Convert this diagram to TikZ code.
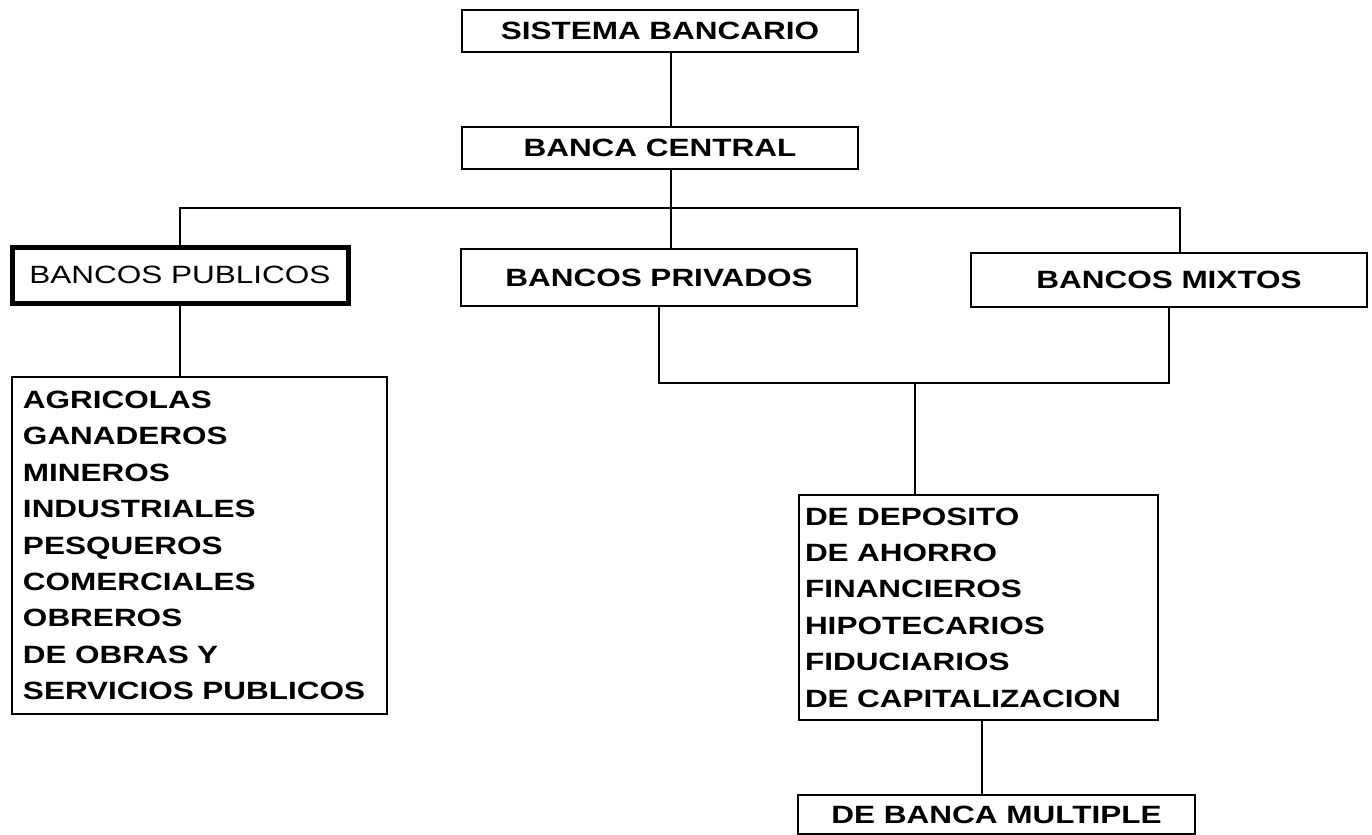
\documentclass[tikz,border=0pt]{standalone}
\usepackage{fontspec}
\setmainfont{Liberation Sans}[FakeStretch=1.26]
\usepackage{tikz}
\usetikzlibrary{positioning}

\begin{document}
\begin{tikzpicture}[x=0.5pt, y=-0.5pt, line width=1pt]
\useasboundingbox (0,0) rectangle (1372,835);
\begin{scope}[every node/.style={rectangle, draw, line width=1.3pt, inner sep=0pt,
              font=\fontsize{12.5}{18.2}\selectfont\bfseries}]
  \node[minimum width=198pt, minimum height=21pt] (sistema) at (660,31) {SISTEMA BANCARIO};
  \node[minimum width=198pt, minimum height=21pt] (central) at (660,148) {BANCA CENTRAL};
  \node[minimum width=168pt, minimum height=28pt, line width=2.5pt, font=\fontsize{12.5}{18.2}\selectfont\mdseries] (publicos) at (180,275) {BANCOS PUBLICOS};
  \node[minimum width=198pt, minimum height=28.5pt] (privados) at (659,277.5) {BANCOS PRIVADOS};
  \node[minimum width=198pt, minimum height=27pt] (mixtos) at (1169,280) {BANCOS MIXTOS};
  \node[minimum width=187.5pt, minimum height=168.5pt, inner xsep=5.5pt, text width=176.5pt, align=left] (agricolas) at (199.5,545.5)
    {AGRICOLAS\\GANADEROS\\MINEROS\\INDUSTRIALES\\PESQUEROS\\COMERCIALES\\OBREROS\\DE OBRAS Y\\SERVICIOS PUBLICOS};
  \node[minimum width=179.5pt, minimum height=112.5pt, inner xsep=3pt, text width=173.5pt, align=left] (deposito) at (978.5,607.5)
    {DE DEPOSITO\\DE AHORRO\\FINANCIEROS\\HIPOTECARIOS\\FIDUCIARIOS\\DE CAPITALIZACION};
  \node[minimum width=198.5pt, minimum height=19.5pt] (multiple) at (996.5,814.5) {DE BANCA MULTIPLE};
\end{scope}

% conectores
\coordinate (bus) at (671,208);
\coordinate (junta) at (915,383);
\draw ([xshift=5.5pt]sistema.south) -- ([xshift=5.5pt]central.north);
\draw ([xshift=5.5pt]central.south) -- ([xshift=6pt]privados.north);
\draw (publicos.north) |- (bus) -| ([xshift=5.5pt]mixtos.north);
\draw (publicos.south) -- (publicos.south |- agricolas.north);
\draw (privados.south) |- (junta) -| (mixtos.south);
\draw (junta) -- (junta |- deposito.north);
\draw[line width=0.6pt] ([xshift=1.75pt]deposito.south) -- ([xshift=1.75pt]deposito.south |- multiple.north);

\end{tikzpicture}
\end{document}
